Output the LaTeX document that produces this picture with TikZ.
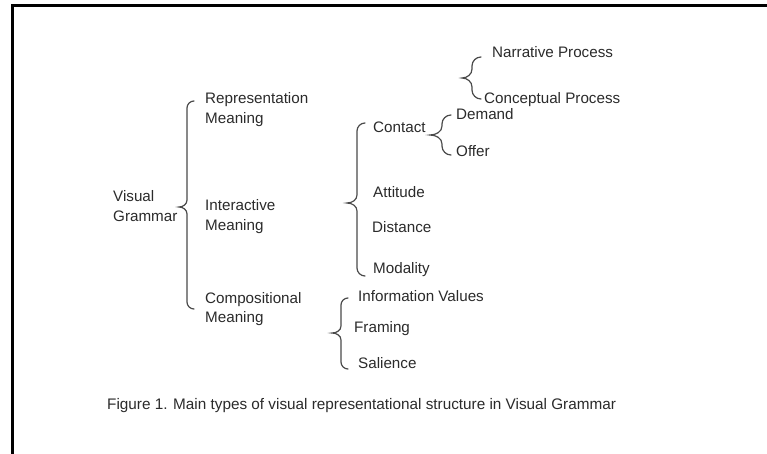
\documentclass[tikz,border=0pt]{standalone}
\usepackage{fontspec}
\setmainfont{Liberation Sans}
\definecolor{txt}{HTML}{2B2B2B}
\definecolor{brc}{HTML}{4A4A4A}
\newcommand{\cbrace}[6]{% x, ytop, ybot, xtip, ytip, d
  \draw[bracestyle] (#1+#6,-#2) to[out=180,in=90] (#1,-#2-#6) -- (#1,-#5+#6)
    to[out=-90,in=0] (#4,-#5) to[out=0,in=90] (#1,-#5-#6) -- (#1,-#3+#6)
    to[out=-90,in=180] (#1+#6,-#3);}
\begin{document}
\begin{tikzpicture}[x=1pt,y=1pt,
  lbl/.style={anchor=base west,inner sep=0pt,text=txt,font=\fontsize{15.2}{19.5}\selectfont},
  captext/.style={anchor=base west,inner sep=0pt,text=txt,font=\fontsize{15.3}{18}\selectfont},
  bracestyle/.style={draw=brc,line width=1.2pt,line cap=round},
  framestyle/.style={draw=black,line width=3pt}]
\useasboundingbox (0,0) rectangle (767,-454);
\fill[white] (0,0) rectangle (767,-454);
% frame (top and left edges)
\coordinate (fl) at (12,-460);
\coordinate (fc) at (12,-6);
\coordinate (fr) at (775,-6);
\draw[framestyle] (fl) -- (fc) -- (fr);
% labels
\node[lbl] (vg) at (113,-202) {\begin{tabular}[t]{@{}l@{}}Visual\\Grammar\end{tabular}};
\node[lbl] (rep) at (205,-104) {\begin{tabular}[t]{@{}l@{}}Representation\\Meaning\end{tabular}};
\node[lbl] (int) at (205,-211) {\begin{tabular}[t]{@{}l@{}}Interactive\\Meaning\end{tabular}};
\node[lbl] (com) at (205,-303) {\begin{tabular}[t]{@{}l@{}}Compositional\\Meaning\end{tabular}};
\node[lbl] (nar) at (492,-58) {Narrative Process};
\node[lbl] (con) at (484,-104) {Conceptual Process};
\node[lbl] (cnt) at (373,-133) {Contact};
\node[lbl] (dem) at (456,-120) {Demand};
\node[lbl] (off) at (456,-157) {Offer};
\node[lbl] (att) at (373,-197) {Attitude};
\node[lbl] (dis) at (372,-232) {Distance};
\node[lbl] (mod) at (373,-273) {Modality};
\node[lbl] (inf) at (358,-301) {Information Values};
\node[lbl] (fra) at (354,-332) {Framing};
\node[lbl] (sal) at (358,-368) {Salience};
\node[captext] (fig) at (107,-409) {Figure 1. Main types of visual representational structure in Visual Grammar};
% braces
\cbrace{187}{101}{309}{179}{207}{7}
\cbrace{357}{123}{276}{347}{203}{8}
\cbrace{442}{115}{155}{430}{135}{9}
\cbrace{472}{57}{99}{462}{78}{9}
\cbrace{341}{298}{369}{332}{333}{7}
\end{tikzpicture}
\end{document}
